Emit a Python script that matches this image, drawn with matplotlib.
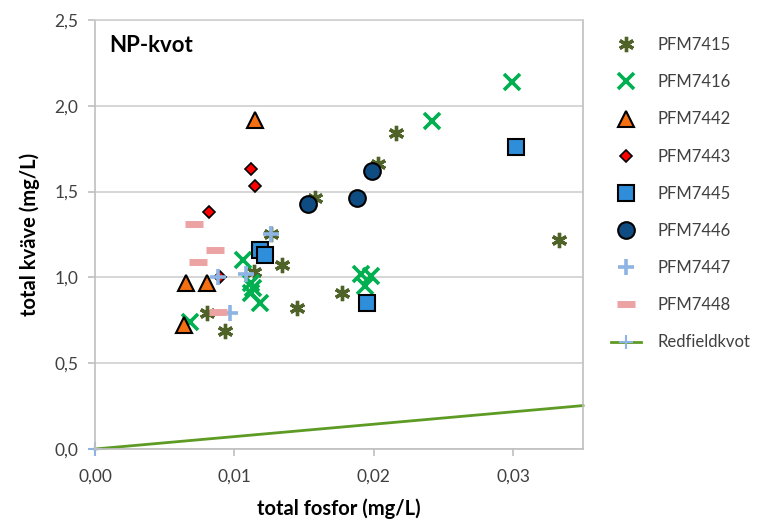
import numpy as np
import matplotlib
matplotlib.use("Agg")
import matplotlib.pyplot as plt
from matplotlib.ticker import FuncFormatter

plt.rcParams['font.family'] = ['Lato', 'DejaVu Sans']

# total fosfor (mg/L), total kväve (mg/L)
p7415_x = [0.0080, 0.0093, 0.0126, 0.0134, 0.0114, 0.0145, 0.0177, 0.0158, 0.0203, 0.0216, 0.0333]
p7415_y = [0.79, 0.69, 1.25, 1.07, 1.03, 0.82, 0.91, 1.46, 1.66, 1.84, 1.22]
p7416_x = [0.0068, 0.0106, 0.0112, 0.0113, 0.0112, 0.0118, 0.0191, 0.0198, 0.0194, 0.0242, 0.0299]
p7416_y = [0.74, 1.10, 0.97, 0.94, 0.91, 0.85, 1.02, 1.01, 0.95, 1.91, 2.14]
p7442_x = [0.0064, 0.0065, 0.0080, 0.0115]
p7442_y = [0.72, 0.97, 0.97, 1.92]
p7443_x = [0.0090, 0.0082, 0.0112, 0.0115]
p7443_y = [1.00, 1.38, 1.63, 1.53]
p7445_x = [0.0118, 0.0122, 0.0195, 0.0302]
p7445_y = [1.16, 1.13, 0.85, 1.76]
p7446_x = [0.0153, 0.0188, 0.0199]
p7446_y = [1.43, 1.46, 1.62]
p7447_x = [0.0088, 0.0097, 0.0108, 0.0126]
p7447_y = [1.00, 0.79, 1.02, 1.25]
p7448_x = [0.0071, 0.0074, 0.0086, 0.0088]
p7448_y = [1.31, 1.09, 1.16, 0.80]
red_x = [0.0, 0.035]
red_y = [0.0, 0.253]

fig = plt.figure(figsize=(7.65, 5.21), dpi=100)
ax = fig.add_axes([95 / 765, 1 - 449 / 521, 488 / 765, 429 / 521])

asterisk = (6, 2, 0)
h = []
h += ax.plot(p7415_x, p7415_y, ls='none', marker=asterisk, ms=11, mew=2.4, color='#4F6228', label='PFM7415')
h += ax.plot(p7416_x, p7416_y, ls='none', marker='x', ms=12, mew=2.6, color='#00B050', label='PFM7416')
h += ax.plot(p7442_x, p7442_y, ls='none', marker='^', ms=12, mew=1.5, mfc='#F36F12', mec='black', label='PFM7442')
h += ax.plot(p7443_x, p7443_y, ls='none', marker='D', ms=6, mew=1.2, mfc='#FF0000', mec='black', label='PFM7443')
h += ax.plot(p7445_x, p7445_y, ls='none', marker='s', ms=12, mew=1.5, mfc='#2F8ED9', mec='black', label='PFM7445')
h += ax.plot(p7446_x, p7446_y, ls='none', marker='o', ms=12, mew=1.5, mfc='#0F4C81', mec='black', label='PFM7446')
h += ax.plot(p7447_x, p7447_y, ls='none', marker='+', ms=12, mew=2.6, color='#8DB4E2', label='PFM7447')
h += ax.plot(p7448_x, p7448_y, ls='none', marker='_', ms=13, mew=5, color='#EBA3A3', label='PFM7448')
h += ax.plot(red_x, red_y, color='#5E9B24', lw=2, marker='+', markevery=[0], ms=10, mew=1.5, mec='#8DB4E2',
             label='Redfieldkvot', clip_on=False, zorder=1)

ax.set_xlim(0, 0.035)
ax.set_ylim(0, 2.5)
ax.set_xticks([0, 0.01, 0.02, 0.03])
ax.set_yticks(np.arange(0, 2.51, 0.5))
ax.xaxis.set_major_formatter(FuncFormatter(lambda v, p: f"{v:.2f}".replace('.', ',')))
ax.yaxis.set_major_formatter(FuncFormatter(lambda v, p: f"{v:.1f}".replace('.', ',')))
ax.grid(axis='y', color='#D0D0D0', lw=1.2)
ax.set_axisbelow(True)
for s in ax.spines.values():
    s.set_color('#BFBFBF')
    s.set_linewidth(1.2)
ax.spines['top'].set_color('#D0D0D0')
ax.tick_params(colors='#BFBFBF', labelcolor='#404040', labelsize=12.5, length=5, width=1.2)
ax.tick_params(axis='x', pad=9)
ax.tick_params(axis='y', pad=7)

ax.set_xlabel('total fosfor (mg/L)', fontsize=14.5, fontweight='bold', labelpad=10)
ax.set_ylabel('total kväve (mg/L)', fontsize=14.5, fontweight='bold', labelpad=10)
ax.text(0.03, 0.94, 'NP-kvot', transform=ax.transAxes, fontsize=16, fontweight='bold', va='center')

fig.legend(handles=h, loc='upper left', bbox_to_anchor=(596 / 765, 1 - 22 / 521), frameon=False,
           fontsize=12, labelspacing=1.27, handlelength=1.8, handletextpad=1.0, labelcolor='#404040')

fig.savefig('out.png', dpi=100)
